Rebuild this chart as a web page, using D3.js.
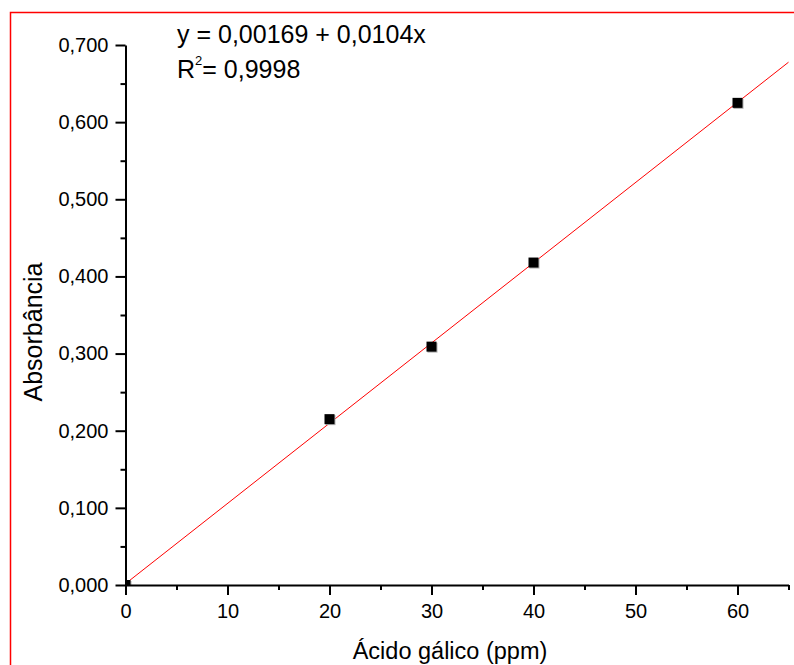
<!DOCTYPE html>
<html>
<head>
<meta charset="utf-8">
<script src="https://cdn.jsdelivr.net/npm/d3@7"></script>
<style>
  html, body { margin: 0; padding: 0; background: #fff; }
  svg { display: block; font-family: "Liberation Sans", Arial, sans-serif; }
</style>
</head>
<body>
<svg id="chart" width="794" height="665"></svg>
<script>
// Calibration data: gallic acid concentration (ppm) vs absorbance
const concentration = [0, 20, 30, 40, 60];
const absorbance = [0.000, 0.215, 0.309, 0.418, 0.625];

// Linear fit reported on the chart
const fitIntercept = 0.00169;
const fitSlope = 0.0104;
const rSquared = "0,9998";

const xMajorTicks = [0, 10, 20, 30, 40, 50, 60];
const xMinorTicks = [5, 15, 25, 35, 45, 55, 65];
const yMajorTicks = [0, 0.1, 0.2, 0.3, 0.4, 0.5, 0.6, 0.7];
const yMinorTicks = [0.05, 0.15, 0.25, 0.35, 0.45, 0.55, 0.65];

const xDomain = [0, 65];
const yDomain = [0, 0.7];

const svg = d3.select("#chart");

// Portuguese number formatting (decimal comma)
const ptLocale = d3.formatLocale({ decimal: ",", thousands: ".", grouping: [3], currency: ["R$", ""] });
const fmtY = ptLocale.format(".3f");

const x = d3.scaleLinear().domain(xDomain).range([125.5, 788.5]);
const y = d3.scaleLinear().domain(yDomain).range([585, 45]);

// Outer frame
svg.append("rect")
  .attr("x", 10.5).attr("y", 12.5)
  .attr("width", 820).attr("height", 700)
  .attr("fill", "none")
  .attr("stroke", "#ff0000")
  .attr("stroke-width", 1.5);

// Clip region for the plot area
svg.append("clipPath").attr("id", "plotClip")
  .append("rect")
  .attr("x", x(xDomain[0])).attr("y", y(yDomain[1]) - 40)
  .attr("width", x(xDomain[1]) - x(xDomain[0]) + 10)
  .attr("height", y(yDomain[0]) - y(yDomain[1]) + 40);

// Fitted line
const fitLine = d3.line()
  .x(d => x(d))
  .y(d => y(fitIntercept + fitSlope * d));
svg.append("path")
  .datum(xDomain)
  .attr("d", fitLine)
  .attr("fill", "none")
  .attr("stroke", "#ff0000")
  .attr("stroke-width", 1);

// Data markers (square with soft shadow)
const pts = concentration.map((c, i) => ({ c, a: absorbance[i] }));
const markers = svg.append("g").attr("clip-path", "url(#plotClip)");
const ms = 10;
markers.selectAll("rect.shadow").data(pts).join("rect")
  .attr("class", "shadow")
  .attr("x", d => x(d.c) - ms / 2 + 1)
  .attr("y", d => y(d.a) - ms / 2 + 1)
  .attr("width", ms).attr("height", ms)
  .attr("fill", "#b0b0b0");
markers.selectAll("rect.pt").data(pts).join("rect")
  .attr("class", "pt")
  .attr("x", d => x(d.c) - ms / 2)
  .attr("y", d => y(d.a) - ms / 2)
  .attr("width", ms).attr("height", ms)
  .attr("fill", "#000");

// X axis
const gx = svg.append("g").attr("transform", `translate(0,${y(0)})`);
gx.append("g")
  .call(d3.axisBottom(x).tickValues(xMinorTicks).tickSize(5).tickSizeOuter(0).tickFormat(""))
  .call(g => g.select(".domain").remove());
gx.append("g")
  .call(d3.axisBottom(x).tickValues(xMajorTicks).tickSize(10).tickSizeOuter(0).tickPadding(9).tickFormat(d3.format("d")));

// Y axis
const gy = svg.append("g").attr("transform", `translate(${x(0)},0)`);
gy.append("g")
  .call(d3.axisLeft(y).tickValues(yMinorTicks).tickSize(5).tickSizeOuter(0).tickFormat(""))
  .call(g => g.select(".domain").remove());
gy.append("g")
  .call(d3.axisLeft(y).tickValues(yMajorTicks).tickSize(10).tickSizeOuter(0).tickPadding(7).tickFormat(fmtY));

svg.selectAll(".domain, .tick line")
  .attr("stroke", "#000")
  .attr("stroke-width", 2);
svg.selectAll(".tick text")
  .attr("fill", "#000")
  .attr("font-size", 20)
  .attr("font-family", "Liberation Sans, Arial, sans-serif");

// Axis titles
svg.append("text")
  .attr("x", 450).attr("y", 659)
  .attr("text-anchor", "middle")
  .attr("font-size", 23.5)
  .text("Ácido gálico (ppm)");

svg.append("text")
  .attr("transform", "translate(42,332) rotate(-90)")
  .attr("text-anchor", "middle")
  .attr("font-size", 25)
  .text("Absorbância");

// Fit equation annotation
const eq = svg.append("g").attr("font-size", 25);
eq.append("text")
  .attr("x", 177).attr("y", 43)
  .text(`y = ${ptLocale.format(".5f")(fitIntercept)} + ${ptLocale.format(".4f")(fitSlope)}x`);
const r2 = eq.append("text").attr("x", 177).attr("y", 78);
r2.append("tspan").text("R");
r2.append("tspan").attr("font-size", 13).attr("dy", -13).text("2");
r2.append("tspan").attr("dy", 13).text("= " + rSquared);
</script>
</body>
</html>
